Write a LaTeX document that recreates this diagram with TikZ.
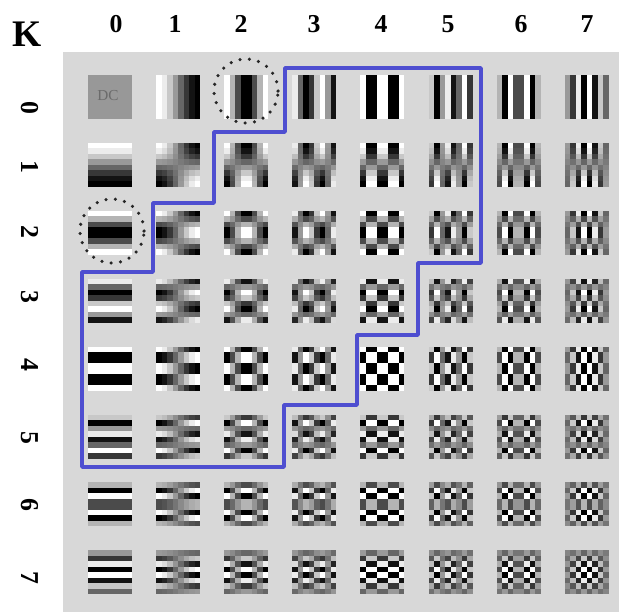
\documentclass[tikz,border=0pt]{standalone}
\usepackage{fontspec}
\setmainfont{Liberation Serif}
\usetikzlibrary{positioning}

\definecolor{zoneblue}{RGB}{78,78,208}
\definecolor{panel}{RGB}{216,216,216}
\definecolor{dcgray}{RGB}{152,152,152}
% largest |cos| of each 8-point basis row, used to stretch every pattern to black..white
\def\peak{{1,0.98079,0.92388,0.98079,0.70711,0.98079,0.92388,0.98079}}

\begin{document}
\begin{tikzpicture}[
  x=0.03cm, y=-0.03cm,
  every node/.style={font=\fontsize{22}{24}\selectfont\bfseries},
  idx/.style={inner sep=0pt},
  cell/.style={inner sep=0pt,minimum size=1.32cm},
  ring/.style={circle,draw=black!85,line width=3pt,minimum size=1.92cm,
               dash pattern=on 0pt off 8pt,line cap=round},
  zone/.style={draw=zoneblue,line width=3.2pt,line join=round}
]
\useasboundingbox (0,0) rectangle (619,612);
\fill[white] (0,0) rectangle (619,612);
\fill[panel] (63,52) rectangle (619,612);

% index labels
\node[idx,font=\fontsize{32}{34}\selectfont\bfseries] (K) at (27,34) {K};
\foreach \k/\px in {0/116,1/175,2/241,3/314,4/381,5/448,6/521,7/587}
  \node[idx] (col\k) at (\px,24) {\k};
\foreach \k/\py in {0/108,1/167,2/232,3/297,4/365,5/438,6/505,7/578}
  \node[idx,rotate=-90] (row\k) at (30,\py) {\k};

% basis images
\foreach \u in {0,...,7}
  \foreach \v in {0,...,7}
    \node[cell] (c\u\v) at ({110+68.1*\u},{97+67.9*\v}) {};

\fill[dcgray] (c00.north west) rectangle (c00.south east);
\node[font=\fontsize{13}{14}\selectfont\mdseries,text=black!58] (dc) at (108,96) {DC};

\foreach \u in {0,...,7}
  \foreach \v in {0,...,7}{
    \ifnum\numexpr\u+\v\relax>0
      \foreach \x in {0,...,7}
        \foreach \y in {0,...,7}{
          \pgfmathsetmacro\lvl{max(0,min(100,50+50*cos(22.5*(\x+0.5)*\u)*cos(22.5*(\y+0.5)*\v)/(\peak[\u]*\peak[\v])))}
          \fill[white!\lvl!black]
            ({110+68.1*\u-22+5.5*\x},{97+67.9*\v-22+5.5*\y}) rectangle ++(5.5,5.5);
        }
    \fi
  }

% marked coefficients
\node[ring] (ring20) at (246,91) {};
\node[ring] (ring02) at (112,231) {};

% zone of kept coefficients
\draw[zone] (285,68) -- (481,68) -- (481,263) -- (418,263) -- (418,335)
  -- (357,335) -- (357,405) -- (284,405) -- (284,467) -- (82,467)
  -- (82,272) -- (153,272) -- (153,203) -- (214,203) -- (214,132)
  -- (285,132) -- cycle;
\end{tikzpicture}
\end{document}
